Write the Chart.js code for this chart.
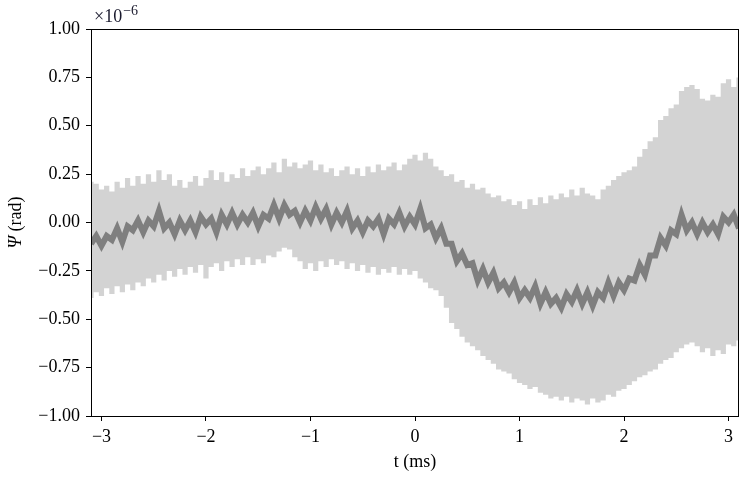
<!DOCTYPE html>
<html>
<head>
<meta charset="utf-8">
<script src="https://cdn.jsdelivr.net/npm/chart.js@4/dist/chart.umd.min.js"></script>
<style>
  html, body { margin: 0; padding: 0; background: #fff; }
  #wrap { width: 745px; height: 479px; }
</style>
</head>
<body>
<div id="wrap"><canvas id="psiChart" width="745" height="479"></canvas></div>
<script>
// Ψ(t) 평균과 신뢰 구간 — 값 단위는 ×10^-6 rad
const tMs = [
  -3.10,-3.05,-3.00,-2.95,-2.90,-2.85,-2.80,-2.75,-2.70,-2.65,
  -2.60,-2.55,-2.50,-2.45,-2.40,-2.35,-2.30,-2.25,-2.20,-2.15,
  -2.10,-2.05,-2.00,-1.95,-1.90,-1.85,-1.80,-1.75,-1.70,-1.65,
  -1.60,-1.55,-1.50,-1.45,-1.40,-1.35,-1.30,-1.25,-1.20,-1.15,
  -1.10,-1.05,-1.00,-0.95,-0.90,-0.85,-0.80,-0.75,-0.70,-0.65,
  -0.60,-0.55,-0.50,-0.45,-0.40,-0.35,-0.30,-0.25,-0.20,-0.15,
  -0.10,-0.05,0.00,0.05,0.10,0.15,0.20,0.25,0.30,0.35,
  0.40,0.45,0.50,0.55,0.60,0.65,0.70,0.75,0.80,0.85,
  0.90,0.95,1.00,1.05,1.10,1.15,1.20,1.25,1.30,1.35,
  1.40,1.45,1.50,1.55,1.60,1.65,1.70,1.75,1.80,1.85,
  1.90,1.95,2.00,2.05,2.10,2.15,2.20,2.25,2.30,2.35,
  2.40,2.45,2.50,2.55,2.60,2.65,2.70,2.75,2.80,2.85,
  2.90,2.95,3.00,3.05,3.10
];
const psiMean = [
  -0.11,-0.07,-0.12,-0.07,-0.09,-0.03,-0.10,-0.02,-0.04,0.01,
  -0.05,0.01,-0.02,0.06,-0.03,0.00,-0.06,0.01,-0.04,0.01,
  -0.05,0.03,-0.01,0.02,-0.05,0.04,-0.01,0.05,-0.01,0.04,
  0.00,0.05,-0.02,0.04,0.02,0.09,0.02,0.09,0.04,0.06,
  0.00,0.06,0.01,0.08,0.02,0.07,-0.01,0.05,0.00,0.06,
  -0.03,0.01,-0.05,0.01,-0.02,0.02,-0.06,0.02,-0.01,0.05,
  -0.02,0.03,-0.01,0.07,-0.03,-0.01,-0.08,-0.03,-0.11,-0.11,
  -0.20,-0.16,-0.22,-0.21,-0.30,-0.24,-0.31,-0.26,-0.34,-0.31,
  -0.36,-0.31,-0.39,-0.35,-0.39,-0.33,-0.42,-0.36,-0.42,-0.39,
  -0.44,-0.37,-0.41,-0.35,-0.42,-0.36,-0.43,-0.36,-0.39,-0.31,
  -0.38,-0.31,-0.35,-0.29,-0.30,-0.22,-0.27,-0.17,-0.17,-0.08,
  -0.12,-0.04,-0.06,0.04,-0.04,0.00,-0.06,0.00,-0.05,-0.01,
  -0.06,0.03,0.00,0.04,-0.03
];
const psiUpper = [
  0.21,0.20,0.17,0.19,0.16,0.21,0.18,0.23,0.19,0.24,
  0.20,0.25,0.21,0.27,0.22,0.25,0.19,0.22,0.18,0.21,
  0.24,0.19,0.23,0.27,0.22,0.26,0.21,0.25,0.23,0.28,
  0.24,0.27,0.29,0.25,0.28,0.31,0.26,0.33,0.29,0.31,
  0.28,0.30,0.32,0.27,0.30,0.26,0.28,0.24,0.27,0.29,
  0.25,0.28,0.24,0.29,0.26,0.30,0.27,0.29,0.31,0.27,
  0.30,0.33,0.35,0.32,0.36,0.33,0.29,0.27,0.24,0.25,
  0.21,0.22,0.18,0.20,0.17,0.18,0.15,0.13,0.14,0.11,
  0.12,0.09,0.11,0.07,0.12,0.09,0.13,0.10,0.14,0.12,
  0.15,0.13,0.17,0.14,0.18,0.15,0.14,0.12,0.17,0.19,
  0.22,0.24,0.26,0.27,0.29,0.34,0.38,0.42,0.44,0.53,
  0.55,0.59,0.61,0.68,0.70,0.71,0.69,0.64,0.63,0.66,
  0.65,0.72,0.74,0.70,0.75
];
const psiLower = [
  -0.39,-0.36,-0.38,-0.34,-0.37,-0.33,-0.36,-0.32,-0.35,-0.31,
  -0.33,-0.29,-0.31,-0.27,-0.30,-0.25,-0.28,-0.24,-0.27,-0.23,
  -0.26,-0.22,-0.29,-0.23,-0.21,-0.25,-0.20,-0.23,-0.19,-0.22,
  -0.18,-0.22,-0.19,-0.21,-0.17,-0.18,-0.15,-0.13,-0.14,-0.18,
  -0.20,-0.24,-0.21,-0.25,-0.20,-0.23,-0.19,-0.22,-0.20,-0.24,
  -0.21,-0.25,-0.22,-0.26,-0.23,-0.27,-0.24,-0.26,-0.23,-0.27,
  -0.24,-0.27,-0.25,-0.29,-0.31,-0.34,-0.35,-0.38,-0.44,-0.52,
  -0.55,-0.59,-0.62,-0.64,-0.66,-0.69,-0.71,-0.73,-0.76,-0.77,
  -0.78,-0.81,-0.83,-0.84,-0.86,-0.85,-0.88,-0.89,-0.91,-0.90,
  -0.92,-0.90,-0.93,-0.91,-0.92,-0.94,-0.91,-0.93,-0.92,-0.89,
  -0.90,-0.87,-0.86,-0.84,-0.82,-0.80,-0.79,-0.77,-0.76,-0.73,
  -0.71,-0.70,-0.67,-0.65,-0.63,-0.62,-0.64,-0.67,-0.65,-0.69,
  -0.66,-0.68,-0.63,-0.64,-0.61
];
const xTicks = [-3, -2, -1, 0, 1, 2, 3];
const yTicks = [-1.0, -0.75, -0.5, -0.25, 0.0, 0.25, 0.5, 0.75, 1.0];

(function () {
  const FONT = "'Liberation Serif', 'DejaVu Serif', serif";
  const pts = (ys) => tMs.map((t, i) => ({ x: t, y: ys[i] }));
  const minus = (s) => s.replace("-", "\u2212");

  // 축 박스 + ×10^-6 + Ψ (rad)
  const decor = {
    id: "decor",
    afterDraw(chart) {
      const { ctx, chartArea: a } = chart;
      ctx.save();
      ctx.strokeStyle = "#000";
      ctx.lineWidth = 1;
      ctx.strokeRect(Math.round(a.left) + 0.5, Math.round(a.top) + 0.5,
        Math.round(a.right - a.left) - 1, Math.round(a.bottom - a.top));

      ctx.fillStyle = "#1a1a2e";
      ctx.textBaseline = "alphabetic";
      ctx.font = "18px " + FONT;
      ctx.fillText("\u00d710", a.left + 3, 22);
      const w = ctx.measureText("\u00d710").width;
      ctx.font = "14px " + FONT;
      ctx.fillText("\u22126", a.left + 3 + w + 1, 15);

      ctx.translate(16, (a.top + a.bottom) / 2);
      ctx.rotate(-Math.PI / 2);
      ctx.fillStyle = "#000";
      ctx.font = "italic 18px " + FONT;
      const p = "\u03a8", r = " (rad)";
      const wp = ctx.measureText(p).width;
      ctx.font = "18px " + FONT;
      const wr = ctx.measureText(r).width;
      const x0 = -(wp + wr) / 2;
      ctx.textBaseline = "middle";
      ctx.font = "italic 18px " + FONT;
      ctx.fillText(p, x0, 0);
      ctx.font = "18px " + FONT;
      ctx.fillText(r, x0 + wp, 0);
      ctx.restore();
    },
  };

  new Chart(document.getElementById("psiChart"), {
    type: "line",
    data: {
      datasets: [
        {
          data: pts(psiMean),
          borderColor: "#7f7f7f",
          borderWidth: 6,
          pointRadius: 0,
          tension: 0,
          fill: false,
        },
        {
          data: pts(psiUpper),
          borderWidth: 0,
          borderColor: "rgba(0,0,0,0)",
          backgroundColor: "#d3d3d3",
          pointRadius: 0,
          stepped: "middle",
          fill: "+1",
        },
        {
          data: pts(psiLower),
          borderWidth: 0,
          borderColor: "rgba(0,0,0,0)",
          backgroundColor: "#d3d3d3",
          pointRadius: 0,
          stepped: "middle",
          fill: false,
        },
      ],
    },
    options: {
      responsive: false,
      animation: false,
      layout: { padding: { top: 29, right: 6, bottom: 0, left: 0 } },
      plugins: { legend: { display: false }, tooltip: { enabled: false } },
      scales: {
        x: {
          type: "linear",
          min: -3.1,
          max: 3.1,
          afterBuildTicks: (s) => { s.ticks = xTicks.map((v) => ({ value: v })); },
          afterFit: (s) => { s.height = 63; },
          border: { display: false },
          grid: { drawOnChartArea: false, drawTicks: true, tickLength: 5, color: "#000" },
          ticks: {
            padding: 5,
            color: "#000",
            font: { family: FONT, size: 18 },
            maxRotation: 0,
            callback: (v) => minus(String(v)),
          },
          title: {
            display: true,
            text: "t (ms)",
            color: "#000",
            font: { family: FONT, size: 18 },
            padding: { top: 0, bottom: 6 },
          },
        },
        y: {
          min: -1,
          max: 1,
          afterBuildTicks: (s) => { s.ticks = yTicks.map((v) => ({ value: v })); },
          afterFit: (s) => { s.width = 91; },
          border: { display: false },
          grid: { drawOnChartArea: false, drawTicks: true, tickLength: 5, color: "#000" },
          ticks: {
            padding: 6,
            color: "#000",
            font: { family: FONT, size: 18 },
            callback: (v) => minus(v.toFixed(2)),
          },
        },
      },
    },
    plugins: [decor],
  });
})();
</script>
</body>
</html>
